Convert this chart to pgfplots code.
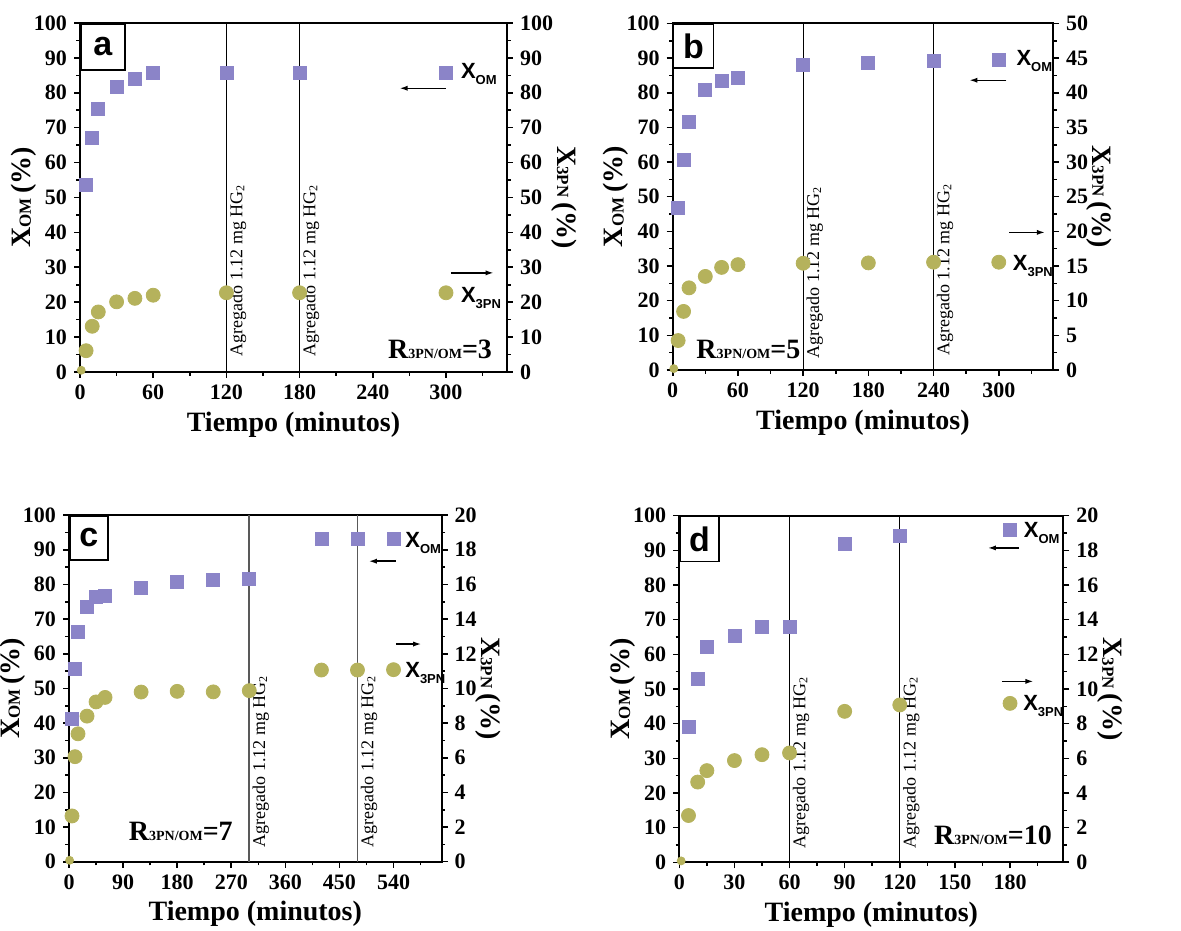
\documentclass[border=0pt]{standalone}
\usepackage{fontspec}
\setmainfont{Liberation Serif}
\setsansfont{Liberation Sans}
\usepackage{pgfplots}
\pgfplotsset{compat=1.18}
\usetikzlibrary{arrows.meta}
\definecolor{sqc}{RGB}{139,132,200}
\definecolor{cic}{RGB}{181,178,92}
\newcommand{\ylab}{\textbf{X}\raisebox{-0.3pt}{\fontsize{8.5}{8.5}\selectfont\bfseries OM}\,\textbf{(\%)}}
\newcommand{\yrlab}{\textbf{X}\raisebox{-0.3pt}{\fontsize{8.5}{8.5}\selectfont\bfseries 3PN}\,\textbf{(\%)}}
\newcommand{\Rlab}[1]{{\fontsize{14}{14}\selectfont\bfseries R\fontsize{7}{7}\selectfont 3PN/OM\fontsize{14}{14}\selectfont =#1}}
\newcommand{\lom}{{\sffamily\bfseries\fontsize{11}{11}\selectfont X\raisebox{-3pt}{\fontsize{6.5}{6.5}\selectfont OM}}}
\newcommand{\lpn}{{\sffamily\bfseries\fontsize{11}{11}\selectfont X\raisebox{-3pt}{\fontsize{6.5}{6.5}\selectfont 3PN}}}
\newcommand{\agr}{Agregado 1.12 mg HG\textsubscript{2}}
\pgfplotsset{
  base/.style={scale only axis, anchor=south west, tick align=outside,
    major tick length=3pt, minor tick length=1.8pt,
    every tick/.style={line width=0.8pt, black},
    axis line style={line width=1pt},
    tick label style={font=\fontsize{11}{11}\selectfont\bfseries},
    /pgf/number format/assume math mode=true, clip=false},
  leftax/.style={base, xtick pos=bottom, ytick pos=left, ymin=0, ymax=100,
    ytick={0,10,...,100}, minor y tick num=1, minor x tick num=1,
    xlabel={\textbf{Tiempo (minutos)}}, ylabel={\ylab},
    label style={font=\fontsize{14}{14}\selectfont\bfseries},
    ylabel shift=-8pt, xlabel style={yshift=1pt}},
  rightax/.style={base, axis x line=none, axis y line*=right, ytick pos=right,
    minor y tick num=1, ylabel={\yrlab}, ylabel style={rotate=180},
    ylabel shift=-7.5pt,
    label style={font=\fontsize{14}{14}\selectfont\bfseries}},
  sq/.style={only marks, mark=square*, mark size=3.25pt, color=sqc},
  ci/.style={only marks, mark=*, mark size=3.5pt, color=cic},
}
\tikzset{
  vl/.style={black, line width=0.5pt},
  ag/.style={rotate=90, anchor=north west, inner sep=1.5pt, font=\fontsize{9}{9}\selectfont},
  ar/.style={line width=0.7pt, -{Latex[length=4pt,width=2.6pt]}},
  pl/.style={draw, line width=0.8pt, anchor=north west, font=\sffamily\bfseries\fontsize{17}{17}\selectfont, inner sep=0pt},
}
\begin{document}
\begin{tikzpicture}
% ---------------- panel a ----------------
\begin{axis}[leftax, at={(40pt,279pt)}, width=213.5pt, height=174.5pt,
  xmin=0, xmax=350, xtick={0,60,...,360}]
\addplot[sq] coordinates {(5,53.5) (10,67.0) (15,75.4) (30,81.6) (45,84.0) (60,85.6) (120,85.6) (180,85.6)};
\addplot[sq] coordinates {(300,85.6)};
\draw[vl] (axis cs:120,0) -- (axis cs:120,100);
\draw[vl] (axis cs:180,0) -- (axis cs:180,100);
\node[ag] at (axis cs:120,3.5) {\agr};
\node[ag] at (axis cs:180,3.5) {\agr};
\draw[ar] (axis cs:300,81.3) -- (axis cs:262,81.3);
\draw[ar] (axis cs:304,28.4) -- (axis cs:339,28.4);
\node[anchor=base west, inner sep=0pt, yshift=-3.8pt] at (axis cs:312,86.4) {\lom};
\node[anchor=base west, inner sep=0pt, yshift=-3.8pt] at (axis cs:312,22.2) {\lpn};
\node[anchor=base east, inner sep=0pt] at (axis cs:338,4) {\Rlab{3}};
\node[pl, minimum width=22pt, minimum height=23pt] at (axis cs:0,100) {a};
\end{axis}
\begin{axis}[rightax, at={(40pt,279pt)}, width=213.5pt, height=174.5pt,
  xmin=0, xmax=350, ymin=0, ymax=100, ytick={0,10,...,100}]
\addplot[ci] coordinates {(5,6.1) (10,13.1) (15,17.2) (30,20.1) (45,21.1) (60,22.0) (120,22.7) (180,22.7)};
\addplot[ci, mark size=2pt] coordinates {(1,0.5)};
\addplot[ci] coordinates {(300,22.7)};
\end{axis}
% ---------------- panel b ----------------
\begin{axis}[leftax, at={(336.35pt,280pt)}, width=190.2pt, height=173.3pt,
  xmin=0, xmax=350, xtick={0,60,...,360}]
\addplot[sq] coordinates {(5,46.9) (10,60.6) (15,71.7) (30,80.8) (45,83.3) (60,84.2) (120,87.9) (180,88.7) (240,89.2)};
\addplot[sq] coordinates {(300,89.4)};
\draw[vl] (axis cs:120,0) -- (axis cs:120,100);
\draw[vl] (axis cs:240,0) -- (axis cs:240,100);
\node[ag] at (axis cs:120,2.4) {\agr};
\node[ag] at (axis cs:240,3.2) {\agr};
\draw[ar] (axis cs:307,83.6) -- (axis cs:273,83.6);
\draw[ar] (axis cs:309.6,39.7) -- (axis cs:342.4,39.7);
\node[anchor=base west, inner sep=0pt, yshift=-3.8pt] at (axis cs:316,89.9) {\lom};
\node[anchor=base west, inner sep=0pt, yshift=-3.8pt] at (axis cs:312.6,31.0) {\lpn};
\node[anchor=base west, inner sep=0pt] at (axis cs:21.5,3.4) {\Rlab{5}};
\node[pl, minimum width=20pt, minimum height=22pt] at (axis cs:0,100) {b};
\end{axis}
\begin{axis}[rightax, at={(336.35pt,280pt)}, width=190.2pt, height=173.3pt,
  xmin=0, xmax=350, ymin=0, ymax=50, ytick={0,5,...,50}]
\addplot[ci] coordinates {(5,4.25) (10,8.45) (15,11.85) (30,13.5) (45,14.8) (60,15.2) (120,15.4) (180,15.45) (240,15.55)};
\addplot[ci, mark size=2pt] coordinates {(1,0.2)};
\addplot[ci] coordinates {(300,15.55)};
\end{axis}
% ---------------- panel c ----------------
\begin{axis}[leftax, at={(34.5pt,34.15pt)}, width=186.3pt, height=173.3pt,
  xmin=0, xmax=620, xtick={0,90,...,630}]
\addplot[sq] coordinates {(5,41.3) (10,55.6) (15,66.4) (30,73.4) (45,76.4) (60,76.8) (120,79.0) (180,80.8) (240,81.4) (300,81.7) (420,93.0) (480,93.0)};
\addplot[sq] coordinates {(540,93.2)};
\draw[black!65, line width=0.9pt] (axis cs:300,0) -- (axis cs:300,100);
\draw[black!65, line width=0.9pt] (axis cs:480,0) -- (axis cs:480,100);
\node[ag] at (axis cs:300,3.2) {\agr};
\node[ag] at (axis cs:480,3.2) {\agr};
\draw[ar] (axis cs:544,86.7) -- (axis cs:499,86.7);
\draw[ar] (axis cs:544,62.8) -- (axis cs:586,62.8);
\node[anchor=base west, inner sep=0pt, yshift=-3.8pt] at (axis cs:559,92.8) {\lom};
\node[anchor=base west, inner sep=0pt, yshift=-3.8pt] at (axis cs:559,55.3) {\lpn};
\node[anchor=base west, inner sep=0pt] at (axis cs:99,6.25) {\Rlab{7}};
\node[pl, minimum width=19pt, minimum height=22pt] at (axis cs:0,100) {c};
\end{axis}
\begin{axis}[rightax, at={(34.5pt,34.15pt)}, width=186.3pt, height=173.3pt,
  xmin=0, xmax=620, ymin=0, ymax=20, ytick={0,2,...,20}]
\addplot[ci] coordinates {(5,2.64) (10,6.06) (15,7.38) (30,8.4) (45,9.22) (60,9.48) (120,9.79) (180,9.83) (240,9.8) (300,9.87) (420,11.06) (480,11.06)};
\addplot[ci, mark size=2pt] coordinates {(1,0.08)};
\addplot[ci] coordinates {(540,11.08)};
\end{axis}
% ---------------- panel d ----------------
\begin{axis}[leftax, at={(339.65pt,33.85pt)}, width=192pt, height=173.3pt,
  xmin=0, xmax=209, xtick={0,30,...,210}]
\addplot[sq] coordinates {(5,39.2) (10,52.9) (15,62.1) (30,65.3) (45,68.0) (60,68.0) (90,91.8) (120,94.2)};
\addplot[sq] coordinates {(180,96.0)};
\draw[vl] (axis cs:60,0) -- (axis cs:60,100);
\draw[vl] (axis cs:120,0) -- (axis cs:120,100);
\node[ag] at (axis cs:60,3.1) {\agr};
\node[ag] at (axis cs:120,3.1) {\agr};
\draw[ar] (axis cs:185,90.7) -- (axis cs:168,90.7);
\draw[ar] (axis cs:175.5,52.2) -- (axis cs:192.7,52.2);
\node[anchor=base west, inner sep=0pt, yshift=-3.8pt] at (axis cs:187.3,95.9) {\lom};
\node[anchor=base west, inner sep=0pt, yshift=-3.8pt] at (axis cs:187,45.9) {\lpn};
\node[anchor=base east, inner sep=0pt] at (axis cs:203,5) {\Rlab{10}};
\node[pl, minimum width=19.5pt, minimum height=22.5pt] at (axis cs:0,100) {d};
\end{axis}
\begin{axis}[rightax, at={(339.65pt,33.85pt)}, width=192pt, height=173.3pt,
  xmin=0, xmax=209, ymin=0, ymax=20, ytick={0,2,...,20}]
\addplot[ci] coordinates {(5,2.7) (10,4.63) (15,5.29) (30,5.87) (45,6.21) (60,6.31) (90,8.71) (120,9.08)};
\addplot[ci, mark size=2pt] coordinates {(1,0.08)};
\addplot[ci] coordinates {(180,9.17)};
\end{axis}
\pgfresetboundingbox
\path (0,0) rectangle (590.5pt,465pt);
\end{tikzpicture}
\end{document}
